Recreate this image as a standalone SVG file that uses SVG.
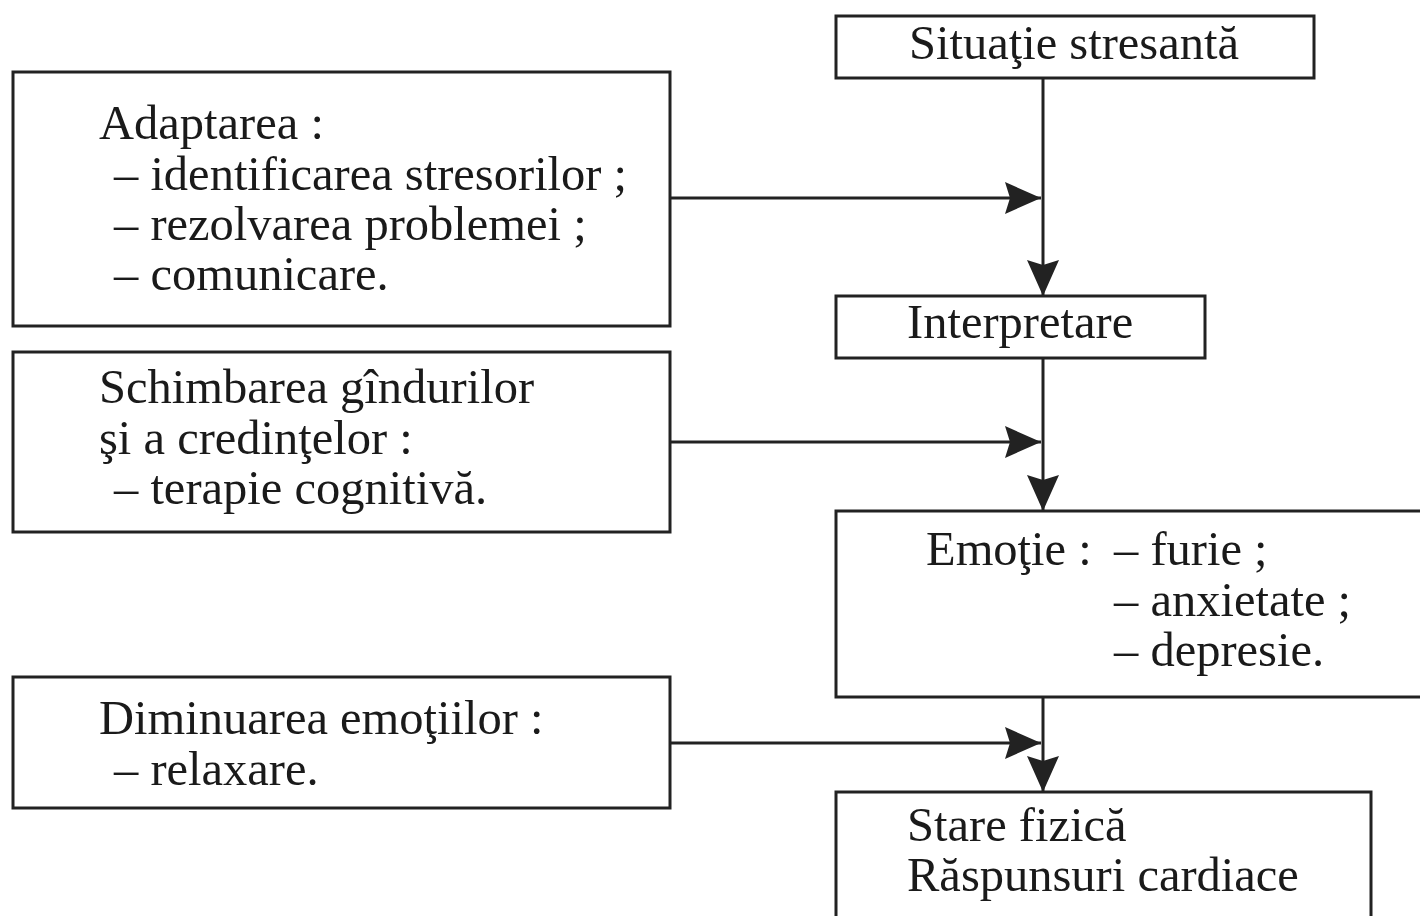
<svg xmlns="http://www.w3.org/2000/svg" width="1420" height="916" viewBox="0 0 1420 916">
<style>
.box{fill:#fff;stroke:#222;stroke-width:3}
.t{font-family:"Liberation Serif","Times New Roman",serif;font-size:48.5px;fill:#1a1a1a}
.ln{stroke:#222;stroke-width:3;fill:none}
</style>
<defs>
<marker id="ah" viewBox="0 0 36 32" refX="36" refY="16" markerWidth="36" markerHeight="32" markerUnits="userSpaceOnUse" orient="auto">
<path d="M0,0 L36,16 L0,32 L5,16 Z" fill="#222"/>
</marker>
</defs>
<rect width="1420" height="916" fill="#fff"/>
<g id="connectors">
<line class="ln" x1="1043" y1="78" x2="1043" y2="296" marker-end="url(#ah)"/>
<line class="ln" x1="1043" y1="358" x2="1043" y2="511" marker-end="url(#ah)"/>
<line class="ln" x1="1043" y1="697" x2="1043" y2="792" marker-end="url(#ah)"/>
<line class="ln" x1="670" y1="198" x2="1041" y2="198" marker-end="url(#ah)"/>
<line class="ln" x1="670" y1="442" x2="1041" y2="442" marker-end="url(#ah)"/>
<line class="ln" x1="670" y1="743" x2="1041" y2="743" marker-end="url(#ah)"/>
</g>
<g id="situatie">
<rect class="box" x="836" y="16" width="478" height="62"/>
<text class="t" x="909" y="59">Situaţie stresantă</text>
</g>
<g id="interpretare">
<rect class="box" x="836" y="296" width="369" height="62"/>
<text class="t" x="907" y="338">Interpretare</text>
</g>
<g id="emotie">
<rect class="box" x="836" y="511" width="620" height="186"/>
<text class="t" x="926" y="565">Emoţie :</text>
<text class="t" x="1114" y="565">– furie ;</text>
<text class="t" x="1114" y="616">– anxietate ;</text>
<text class="t" x="1114" y="666">– depresie.</text>
</g>
<g id="stare">
<rect class="box" x="836" y="792" width="535" height="160"/>
<text class="t" x="907" y="841">Stare fizică</text>
<text class="t" x="907" y="891">Răspunsuri cardiace</text>
</g>
<g id="adaptarea">
<rect class="box" x="13" y="72" width="657" height="254"/>
<text class="t" x="99" y="139">Adaptarea :</text>
<text class="t" x="114" y="190">– identificarea stresorilor ;</text>
<text class="t" x="114" y="240">– rezolvarea problemei ;</text>
<text class="t" x="114" y="290">– comunicare.</text>
</g>
<g id="schimbarea">
<rect class="box" x="13" y="352" width="657" height="180"/>
<text class="t" x="99" y="403">Schimbarea gîndurilor</text>
<text class="t" x="99" y="454">şi a credinţelor :</text>
<text class="t" x="114" y="504">– terapie cognitivă.</text>
</g>
<g id="diminuarea">
<rect class="box" x="13" y="677" width="657" height="131"/>
<text class="t" x="99" y="734">Diminuarea emoţiilor :</text>
<text class="t" x="114" y="785">– relaxare.</text>
</g>
</svg>
